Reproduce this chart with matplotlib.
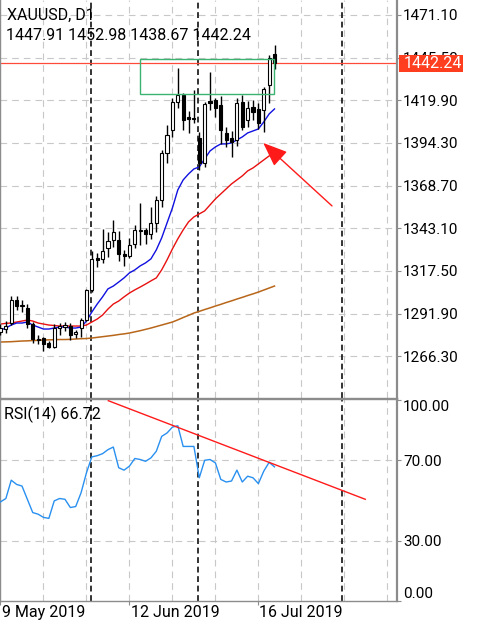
import matplotlib
matplotlib.use("Agg")
import matplotlib.pyplot as plt
from matplotlib.patches import Rectangle
import numpy as np

plt.rcParams['font.family'] = ['Roboto', 'DejaVu Sans']

# ---------------- data ----------------
symbol_title = "XAUUSD, D1"
ohlc_title = "1447.91 1452.98 1438.67 1442.24"
rsi_title = "RSI(14) 66.72"
last_price = 1442.24

opens = [1281.0, 1282.5, 1286.2, 1300.1, 1296.5, 1295.5, 1285.5, 1276.0, 1277.0, 1274.0,
         1272.0, 1283.5, 1284.0, 1284.5, 1279.5, 1283.3, 1288.1, 1306.1, 1325.3, 1324.7,
         1331.5, 1336.0, 1336.1, 1327.7, 1326.5, 1333.7, 1341.5, 1342.1, 1339.7, 1346.3,
         1360.1, 1388.3, 1402.1, 1418.9, 1423.1, 1409.9, 1409.3, 1397.3, 1382.3, 1419.5,
         1420.1, 1417.1, 1400.3, 1397.3, 1396.1, 1418.9, 1408.1, 1415.9, 1414.7, 1414.0,
         1429.1, 1447.91]
highs = [1285.5, 1287.5, 1302.5, 1302.5, 1300.0, 1297.5, 1287.0, 1279.0, 1278.0, 1275.5,
         1285.5, 1286.0, 1287.0, 1286.0, 1282.0, 1289.0, 1306.5, 1329.5, 1328.5, 1342.7,
         1340.9, 1348.1, 1341.5, 1330.0, 1337.3, 1345.0, 1358.3, 1343.3, 1355.9, 1362.5,
         1390.0, 1405.1, 1421.5, 1439.3, 1424.5, 1413.5, 1426.1, 1400.9, 1419.0, 1436.9,
         1421.5, 1422.5, 1403.9, 1401.5, 1421.5, 1423.1, 1419.5, 1420.1, 1418.5, 1428.0,
         1447.0, 1452.98]
lows = [1279.0, 1280.5, 1285.0, 1294.0, 1293.0, 1283.5, 1274.5, 1273.5, 1269.5, 1271.5,
        1271.0, 1279.0, 1281.5, 1276.0, 1277.5, 1277.8, 1287.5, 1305.0, 1320.0, 1322.0,
        1325.9, 1332.0, 1323.5, 1320.5, 1325.0, 1331.0, 1333.0, 1333.7, 1336.5, 1341.0,
        1356.0, 1382.0, 1398.0, 1415.0, 1402.1, 1400.5, 1406.0, 1378.1, 1380.0, 1414.1,
        1410.0, 1393.5, 1391.9, 1385.9, 1392.5, 1402.1, 1403.9, 1408.1, 1402.7, 1401.0,
        1418.0, 1438.67]
closes = [1283.5, 1284.5, 1300.1, 1296.5, 1297.2, 1285.5, 1276.5, 1276.8, 1273.5, 1272.0,
          1283.3, 1284.5, 1285.0, 1279.1, 1281.0, 1288.1, 1306.1, 1324.7, 1324.1, 1329.5,
          1335.5, 1340.9, 1327.7, 1326.5, 1333.1, 1342.1, 1342.1, 1339.7, 1346.3, 1360.1,
          1388.3, 1399.1, 1418.9, 1423.1, 1408.1, 1408.7, 1408.7, 1382.3, 1417.7, 1418.3,
          1415.3, 1402.1, 1396.1, 1394.9, 1418.3, 1403.9, 1415.3, 1412.9, 1406.3, 1426.7,
          1445.3, 1442.24]

ma_fast = [1282.0, 1283.2, 1285.0, 1286.2, 1286.2, 1286.8, 1285.0, 1283.8, 1282.6, 1282.6,
           1283.2, 1283.8, 1283.8, 1283.2, 1283.2, 1283.8, 1287.4, 1292.8, 1297.6, 1301.9,
           1306.7, 1308.4, 1310.8, 1313.3, 1316.3, 1318.1, 1320.5, 1322.3, 1324.7, 1330.1,
           1337.3, 1346.3, 1355.3, 1366.1, 1372.1, 1375.7, 1378.7, 1379.9, 1384.7, 1389.5,
           1391.9, 1393.7, 1393.7, 1394.3, 1396.1, 1397.9, 1400.3, 1401.5, 1402.7, 1406.9,
           1411.7, 1414.7]
ma_mid = [1285.6, 1286.0, 1286.2, 1286.8, 1287.4, 1288.0, 1287.4, 1286.2, 1285.6, 1285.0,
          1284.7, 1284.4, 1284.4, 1284.4, 1284.4, 1284.4, 1285.0, 1286.8, 1288.6, 1291.0,
          1294.6, 1297.6, 1299.4, 1301.9, 1304.2, 1306.1, 1307.8, 1309.6, 1311.5, 1313.3,
          1318.1, 1324.1, 1330.7, 1336.7, 1342.1, 1346.9, 1349.9, 1351.7, 1353.5, 1357.1,
          1360.7, 1363.7, 1366.7, 1369.7, 1372.1, 1374.5, 1377.5, 1379.3, 1381.7, 1384.1,
          1386.5, 1388.3]
ma_slow = [1274.8, 1274.9, 1275.0, 1275.2, 1275.4, 1275.5, 1275.7, 1275.8, 1276.0, 1276.1,
           1276.2, 1276.3, 1276.3, 1276.4, 1276.6, 1276.8, 1276.9, 1277.2, 1277.6, 1278.0,
           1278.4, 1278.8, 1279.3, 1279.7, 1280.2, 1280.9, 1281.6, 1282.4, 1283.2, 1284.1,
           1285.0, 1285.9, 1286.8, 1288.1, 1289.5, 1290.8, 1292.2, 1293.2, 1294.3, 1295.3,
           1296.4, 1297.4, 1298.5, 1299.5, 1300.6, 1301.6, 1302.7, 1303.7, 1304.8, 1306.0,
           1307.2, 1308.4]

rsi_values = [49.3, 51.0, 60.1, 58.0, 57.2, 50.6, 44.0, 43.2, 41.6, 41.1,
              49.8, 51.0, 50.6, 46.5, 47.0, 53.9, 63.8, 71.7, 72.3, 73.3,
              75.3, 76.6, 66.3, 65.1, 67.1, 70.9, 70.4, 69.5, 71.2, 74.5,
              81.9, 83.6, 86.5, 87.2, 76.9, 76.9, 76.9, 61.3, 70.0, 70.4,
              68.7, 60.5, 59.2, 59.7, 65.1, 59.2, 62.1, 61.3, 58.4, 64.6,
              69.0, 66.72]

price_ticks = [1266.30, 1291.90, 1317.50, 1343.10, 1368.70, 1394.30, 1419.90, 1445.50, 1471.10]
rsi_ticks = [0.0, 30.0, 70.0, 100.0]
date_labels = ["9 May 2019", "12 Jun 2019", "16 Jul 2019"]
date_label_bars = [0, 24, 48]

# drawn objects (bar index / price coordinates)
box_bars = (25.9, 50.9)
box_prices = (1423.4, 1444.4)
arrow_from = (61.7, 1356.5)
arrow_to = (48.9, 1394.3)
rsi_trend_bars = (20.07, 67.9)
rsi_trend_vals = (99.65, 50.6)
separator_bars = [16.85, 36.8, 63.6]

# ---------------- figure ----------------
W, H = 481, 625
fig = plt.figure(figsize=(W / 100, H / 100), dpi=100)
fig.patch.set_facecolor('white')

ax = fig.add_axes([0, 1 - 398 / H, 397 / W, 398 / H])
rx = fig.add_axes([0, 1 - 601 / H, 397 / W, 202 / H], sharex=ax)

n = len(closes)
x = np.arange(n)
xlim = (-0.093, 73.8)

grid_col = '#c8c8c8'
spine_col = '#8c8c8c'
grid_ls = (0, (6, 4.5))
vgrid = [8 * k - 0.1 for k in range(1, 10)]

for a in (ax, rx):
    for v in vgrid:
        a.axvline(v, color=grid_col, lw=0.8, ls=grid_ls, zorder=0)
    for v in separator_bars:
        a.axvline(v, color='#111111', lw=1.2, ls=(0, (3.5, 2.2)), zorder=1)

for p in price_ticks:
    ax.axhline(p, color=grid_col, lw=0.8, ls=grid_ls, zorder=0)
for v in (30, 70):
    rx.axhline(v, color=grid_col, lw=0.8, ls=grid_ls, zorder=0)

# candles
o = np.array(opens); c = np.array(closes); h = np.array(highs); l = np.array(lows)
ax.vlines(x, l, h, color='black', lw=1.0, zorder=3)
up = c >= o
body_w = 0.58
ax.bar(x[up], c[up] - o[up], bottom=o[up], width=body_w, color='white',
       edgecolor='black', linewidth=0.8, zorder=4)
ax.bar(x[~up], c[~up] - o[~up], bottom=o[~up], width=body_w, color='black',
       edgecolor='black', linewidth=0.8, zorder=4)

# moving averages
ax.plot(x, ma_slow, color='#b8661a', lw=1.1, zorder=2)
ax.plot(x, ma_mid, color='#e81010', lw=1.0, zorder=2)
ax.plot(x, ma_fast, color='#1010e0', lw=1.0, zorder=2)

# last price line
ax.axhline(last_price, color='#ff4a3a', lw=0.9, zorder=2)

# green box
ax.add_patch(Rectangle((box_bars[0], box_prices[0]), box_bars[1] - box_bars[0],
                       box_prices[1] - box_prices[0], fill=False,
                       edgecolor='#3cb371', lw=1.0, zorder=5))

# arrow
ax.annotate('', xy=arrow_to, xytext=arrow_from,
            arrowprops=dict(arrowstyle='-|>,head_length=1.5,head_width=0.6',
                            color='#ff1a1a', lw=1.0, shrinkA=0, shrinkB=0,
                            mutation_scale=10), zorder=6)

ax.set_xlim(*xlim)
ax.set_ylim(1241.2, 1480.1)

# RSI
rx.plot(x, rsi_values, color='#2990f0', lw=1.0, zorder=3)
rx.plot(rsi_trend_bars, rsi_trend_vals, color='#ff1a1a', lw=1.0, zorder=4)
rx.set_ylim(0.7, 100.5)
rx.set_xlim(*xlim)

# axes styling
for a in (ax, rx):
    a.set_facecolor('white')
    a.yaxis.tick_right()
    for s in a.spines.values():
        s.set_color(spine_col)
        s.set_linewidth(1.0)
    a.spines['right'].set_linewidth(1.6)
    a.tick_params(axis='y', direction='out', length=3, width=0.8, color=spine_col,
                  pad=1.5, labelsize=11, labelcolor='black')
ax.spines['top'].set_visible(False)

ax.set_yticks(price_ticks)
ax.set_yticklabels([f"{p:.2f}" for p in price_ticks])
ax.tick_params(axis='x', bottom=False, labelbottom=False)

rx.set_yticks(rsi_ticks)
rx.set_yticklabels([f"{v:.2f}" for v in rsi_ticks])
for lbl, v in zip(rx.get_yticklabels(), rsi_ticks):
    if v == 100.0:
        lbl.set_verticalalignment('top')
    elif v == 0.0:
        lbl.set_verticalalignment('bottom')
rx.set_xticks(date_label_bars)
rx.tick_params(axis='x', direction='out', length=3, width=0.8, color=spine_col,
               labelbottom=False)

for b, lab in zip(date_label_bars, date_labels):
    rx.text(b + 0.2, -0.059, lab, transform=rx.get_xaxis_transform(),
            ha='left', va='center', fontsize=11.5, color='black', clip_on=False)

# titles
fig.text(7 / W, 1 - 15 / H, symbol_title, ha='left', va='center', fontsize=11.5)
fig.text(6 / W, 1 - 35.5 / H, ohlc_title, ha='left', va='center', fontsize=11.5)
fig.text(4 / W, 1 - 414 / H, rsi_title, ha='left', va='center', fontsize=11.5)

# last price tag
fig.patches.append(Rectangle((399 / W, 1 - 72 / H), 64 / W, 17 / H,
                             transform=fig.transFigure, facecolor='#ff3d1f',
                             edgecolor='none', zorder=10))
fig.text(404 / W, 1 - 63.5 / H, f"{last_price:.2f}", ha='left', va='center',
         fontsize=11.5, color='white', zorder=11)

fig.savefig('out.png', dpi=100)
